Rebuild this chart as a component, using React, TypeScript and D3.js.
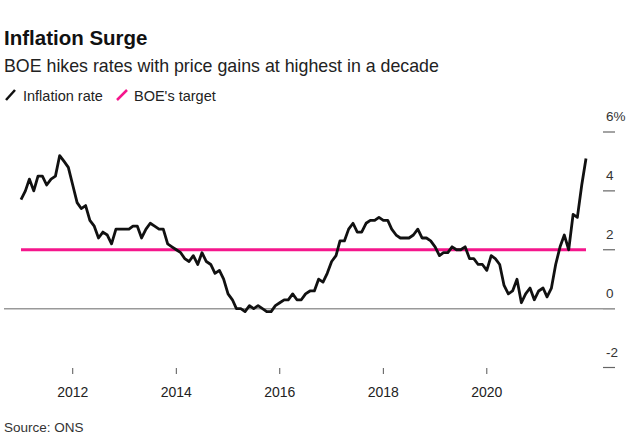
import React from 'react';
import * as d3 from 'd3';

// Monthly UK CPI inflation, Dec 2010 .. Nov 2021 (each value dated at month end)
const firstMonth = new Date(2011, 0, 1);
const inflation = [
  3.7,
  4.0, 4.4, 4.0, 4.5, 4.5, 4.2, 4.4, 4.5, 5.2, 5.0, 4.8, 4.2,
  3.6, 3.4, 3.5, 3.0, 2.8, 2.4, 2.6, 2.5, 2.2, 2.7, 2.7, 2.7,
  2.7, 2.8, 2.8, 2.4, 2.7, 2.9, 2.8, 2.7, 2.7, 2.2, 2.1, 2.0,
  1.9, 1.7, 1.6, 1.8, 1.5, 1.9, 1.6, 1.5, 1.2, 1.3, 1.0, 0.5,
  0.3, 0.0, 0.0, -0.1, 0.1, 0.0, 0.1, 0.0, -0.1, -0.1, 0.1, 0.2,
  0.3, 0.3, 0.5, 0.3, 0.3, 0.5, 0.6, 0.6, 1.0, 0.9, 1.2, 1.6,
  1.8, 2.3, 2.3, 2.7, 2.9, 2.6, 2.6, 2.9, 3.0, 3.0, 3.1, 3.0,
  3.0, 2.7, 2.5, 2.4, 2.4, 2.4, 2.5, 2.7, 2.4, 2.4, 2.3, 2.1,
  1.8, 1.9, 1.9, 2.1, 2.0, 2.0, 2.1, 1.7, 1.7, 1.5, 1.5, 1.3,
  1.8, 1.7, 1.5, 0.8, 0.5, 0.6, 1.0, 0.2, 0.5, 0.7, 0.3, 0.6,
  0.7, 0.4, 0.7, 1.5, 2.1, 2.5, 2.0, 3.2, 3.1, 4.2, 5.1,
];
const boeTarget = 2;
const yTicks = [-2, 0, 2, 4, 6];
const xTickYears = [2012, 2014, 2016, 2018, 2020];

const W = 630;
const H = 447;
const FONT = '"Liberation Sans", Arial, Helvetica, sans-serif';

export default function App() {
  const dates = inflation.map((_, i) => d3.timeMonth.offset(firstMonth, i));
  const x = d3
    .scaleTime()
    .domain([dates[0], dates[dates.length - 1]])
    .range([21, 586]);
  const y = d3.scaleLinear().domain([-2, 6]).range([367.5, 132]);

  const line = d3
    .line<number>()
    .x((_, i) => x(dates[i]))
    .y((d) => y(d))
    .curve(d3.curveLinear);

  return (
    <svg
      width={W}
      height={H}
      style={{ position: 'absolute', left: 0, top: 0, background: '#fff' }}
      fontFamily={FONT}
    >
      <rect width={W} height={H} fill="#fff" />
      <text x={4} y={45} fontSize={20.5} fontWeight="bold" fill="#111">
        Inflation Surge
      </text>
      <text x={4} y={72} fontSize={17.8} fill="#222">
        BOE hikes rates with price gains at highest in a decade
      </text>

      {/* legend */}
      <line x1={6} y1={100} x2={15} y2={90} stroke="#111" strokeWidth={2.5} />
      <text x={23} y={101} fontSize={14.5} fill="#222">
        Inflation rate
      </text>
      <line x1={117} y1={100} x2={127} y2={90} stroke="#f5168c" strokeWidth={2.5} />
      <text x={134} y={101} fontSize={14.5} fill="#222">
        BOE's target
      </text>

      {/* y axis */}
      {yTicks.map((t) => (
        <g key={t}>
          <line x1={603} x2={615} y1={y(t)} y2={y(t)} stroke="#666" strokeWidth={1.2} />
          <text x={606} y={y(t) - 11} fontSize={13.5} fill="#333">
            {t === 6 ? '6%' : String(t)}
          </text>
        </g>
      ))}

      {/* zero line */}
      <line x1={4} x2={615} y1={y(0)} y2={y(0)} stroke="#999" strokeWidth={1.5} />

      {/* x axis */}
      {xTickYears.map((yr) => {
        const px = x(new Date(yr, 0, 1));
        return (
          <g key={yr}>
            <line x1={px} x2={px} y1={368} y2={374} stroke="#555" strokeWidth={1} />
            <text x={px} y={397} fontSize={14} textAnchor="middle" fill="#222">
              {yr}
            </text>
          </g>
        );
      })}

      {/* target line */}
      <line
        x1={x(dates[0])}
        x2={x(dates[dates.length - 1])}
        y1={y(boeTarget)}
        y2={y(boeTarget)}
        stroke="#f5168c"
        strokeWidth={3}
      />

      {/* inflation line */}
      <path
        d={line(inflation) || ''}
        fill="none"
        stroke="#111"
        strokeWidth={2.8}
        strokeLinejoin="round"
      />

      <text x={4} y={432} fontSize={13.5} fill="#333">
        Source: ONS
      </text>
    </svg>
  );
}
